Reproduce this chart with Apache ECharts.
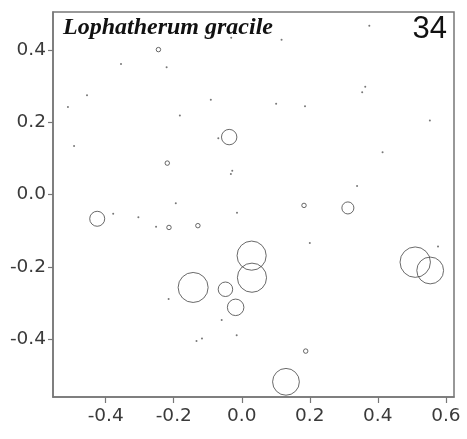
<!DOCTYPE html>
<html>
<head>
<meta charset="utf-8">
<script src="https://cdn.jsdelivr.net/npm/echarts@6/dist/echarts.min.js"></script>
<style>html,body{margin:0;padding:0;background:#fff}#c{width:467px;height:439px}</style>
</head>
<body>
<div id="c"></div>
<script>
// Ordination scores (axis 1, axis 2) and abundance weights (0 = single dot)
const xVals = [-0.511,-0.455,-0.493,-0.355,-0.245,-0.221,-0.182,-0.091,-0.031,-0.037,
  -0.069,-0.028,-0.032,-0.219,-0.194,-0.014,0.117,0.101,0.186,0.375,
  0.363,0.354,0.553,0.414,0.339,0.183,0.312,0.200,0.577,-0.425,
  -0.378,-0.304,-0.252,-0.214,-0.129,-0.143,-0.048,-0.018,-0.215,-0.059,
  -0.133,-0.117,-0.015,0.029,0.030,0.510,0.554,0.188,0.130];
const yVals = [0.242,0.275,0.134,0.361,0.401,0.352,0.219,0.262,0.434,0.159,
  0.156,0.066,0.057,0.087,-0.024,-0.050,0.428,0.251,0.244,0.467,
  0.298,0.283,0.205,0.117,0.024,-0.030,-0.037,-0.134,-0.144,-0.067,
  -0.053,-0.063,-0.089,-0.091,-0.086,-0.257,-0.262,-0.312,-0.289,-0.347,
  -0.405,-0.398,-0.389,-0.169,-0.230,-0.187,-0.210,-0.433,-0.518];
const weights = [0,0,0,0,0.8,0,0,0,0,9.5,
  0,0,0,0.8,0,0,0,0,0,0,
  0,0,0,0,0,0.8,5.8,0,0,9,
  0,0,0,0.8,0.8,36,8.4,10.9,0,0,
  0,0,0,34,34,37,28.7,0.8,28.7];
const xTicks = [-0.4,-0.2,0.0,0.2,0.4,0.6];
const yTicks = [-0.4,-0.2,0.0,0.2,0.4];
const titleText = 'Lophatherum gracile';
const panelNo = '34';

const dots = [], rings = [];
xVals.forEach((x, i) => {
  if (weights[i] > 0) rings.push([x, yVals[i], weights[i]]);
  else dots.push([x, yVals[i]]);
});

const labelFont = {fontFamily: 'DejaVu Sans', fontSize: 18.5, color: '#3a3a3a'};
const chart = echarts.init(document.getElementById('c'), null, {renderer: 'canvas'});
chart.setOption({
  animation: false,
  backgroundColor: '#fff',
  grid: {left: 53, top: 12, right: 13, bottom: 42, show: true, borderColor: '#777', borderWidth: 1.5, containLabel: false},
  xAxis: {
    type: 'value', min: -0.555, max: 0.624,
    splitLine: {show: false},
    axisLine: {show: true, onZero: false, lineStyle: {color: '#777', width: 1.5}},
    axisTick: {show: true, inside: false, length: 6, lineStyle: {color: '#777', width: 1.2}, customValues: xTicks},
    axisLabel: Object.assign({margin: 10, customValues: xTicks, formatter: v => v.toFixed(1)}, labelFont)
  },
  yAxis: {
    type: 'value', min: -0.56, max: 0.505,
    splitLine: {show: false},
    axisLine: {show: true, onZero: false, lineStyle: {color: '#777', width: 1.5}},
    axisTick: {show: true, inside: false, length: 5, lineStyle: {color: '#777', width: 1.2}, customValues: yTicks},
    axisLabel: Object.assign({margin: 7, customValues: yTicks, formatter: v => v.toFixed(1)}, labelFont)
  },
  series: [
    {type: 'scatter', data: dots, symbol: 'circle', symbolSize: 2,
     itemStyle: {color: '#555'}, silent: true},
    {type: 'scatter', data: rings, symbol: 'circle',
     symbolSize: d => 5 * Math.sqrt(d[2]),
     itemStyle: {color: 'rgba(0,0,0,0)', borderColor: '#444', borderWidth: 1}, silent: true}
  ],
  graphic: [
    {type: 'text', left: 63, top: 16, style: {text: titleText, font: 'italic bold 24px "Liberation Serif"', fill: '#111'}},
    {type: 'text', right: 20, top: 14, style: {text: panelNo, font: '31px "Liberation Sans"', fill: '#111'}}
  ]
});
</script>
</body>
</html>
